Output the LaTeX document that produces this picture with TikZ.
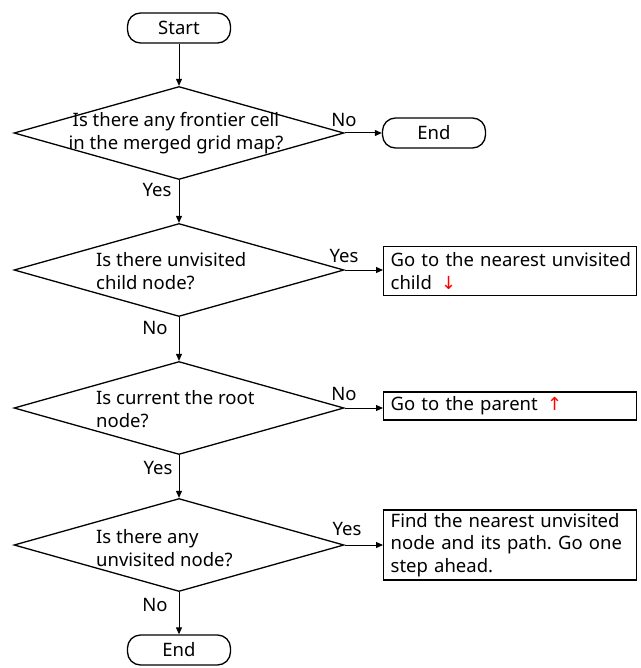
\documentclass[tikz,border=0pt]{standalone}
\usepackage{fontspec}
\setmainfont{Noto Sans}
\newfontfamily\arrowfont{DejaVu Sans}
\usetikzlibrary{shapes.geometric,arrows.meta}
\frenchspacing
\newcommand{\redarrow}[1]{{\arrowfont\color{red}\fontsize{18}{22}\selectfont #1}}
\begin{document}
\begin{tikzpicture}[x=1pt,y=-1pt,
  every node/.style={font=\fontsize{18.5}{22.5}\selectfont},
  term/.style={draw, rounded corners=13pt, minimum width=103pt, minimum height=30pt, inner sep=0pt, line width=1.3pt},
  decision/.style={draw, diamond, minimum width=330pt, minimum height=93pt, inner sep=0pt, line width=1.3pt},
  action/.style={draw, rectangle, anchor=west, align=left, text width=239pt, inner xsep=7pt, inner ysep=2pt, line width=1.3pt},
  qtext/.style={align=left, inner sep=0pt},
  lab/.style={inner sep=0pt},
  flow/.style={-{Triangle[length=7pt,width=6pt]}, line width=1pt}
]
\useasboundingbox (0,0) rectangle (640,668);

% terminals
\node[term] (start) at (179,28) {Start};
\node[term] (endA) at (434,133) {End};
\node[term] (endB) at (179,650) {End};

% decisions
\node[decision] (d1) at (179,133) {};
\node[decision] (d2) at (179,270) {};
\node[decision] (d3) at (179,408) {};
\node[decision] (d4) at (179,545) {};

\node[qtext, align=center] (q1) at (176,133) {Is there any frontier cell\\in the merged grid map?};
\node[qtext, anchor=west] (q2) at (96,271) {Is there unvisited\\child node?};
\node[qtext, anchor=west] (q3) at (96,409) {Is current the root\\node?};
\node[qtext, anchor=west] (q4) at (96,548) {Is there any\\unvisited node?};

% actions
\node[action, minimum height=49pt] (a1) at (383,271) {\mbox{Go to the nearest unvisited}\\child\ \,\redarrow{↓}};
\node[action, minimum height=28pt] (a2) at (383,406) {Go to the parent\ \,\redarrow{↑}};
\node[action, minimum height=70pt] (a3) at (383,545) {\mbox{Find the nearest unvisited}\\\mbox{node and its path. Go one}\\step ahead.};

% branch labels
\node[lab] (l1) at (344,120) {No};
\node[lab] (l2) at (157,190) {Yes};
\node[lab] (l3) at (344,256) {Yes};
\node[lab] (l4) at (155,328) {No};
\node[lab] (l5) at (344,394) {No};
\node[lab] (l6) at (158,468) {Yes};
\node[lab] (l7) at (347,529) {Yes};
\node[lab] (l8) at (155,605) {No};

% connectors
\draw[flow] (start) -- (d1);
\draw[flow] (d1) -- (endA);
\draw[flow] (d1) -- (d2);
\draw[flow] (d2) -- (a1.west |- d2.east);
\draw[flow] (d2) -- (d3);
\draw[flow] (d3) -- (a2.west |- d3.east);
\draw[flow] (d3) -- (d4);
\draw[flow] (d4) -- (a3);
\draw[flow] (d4) -- (endB);
\end{tikzpicture}
\end{document}
